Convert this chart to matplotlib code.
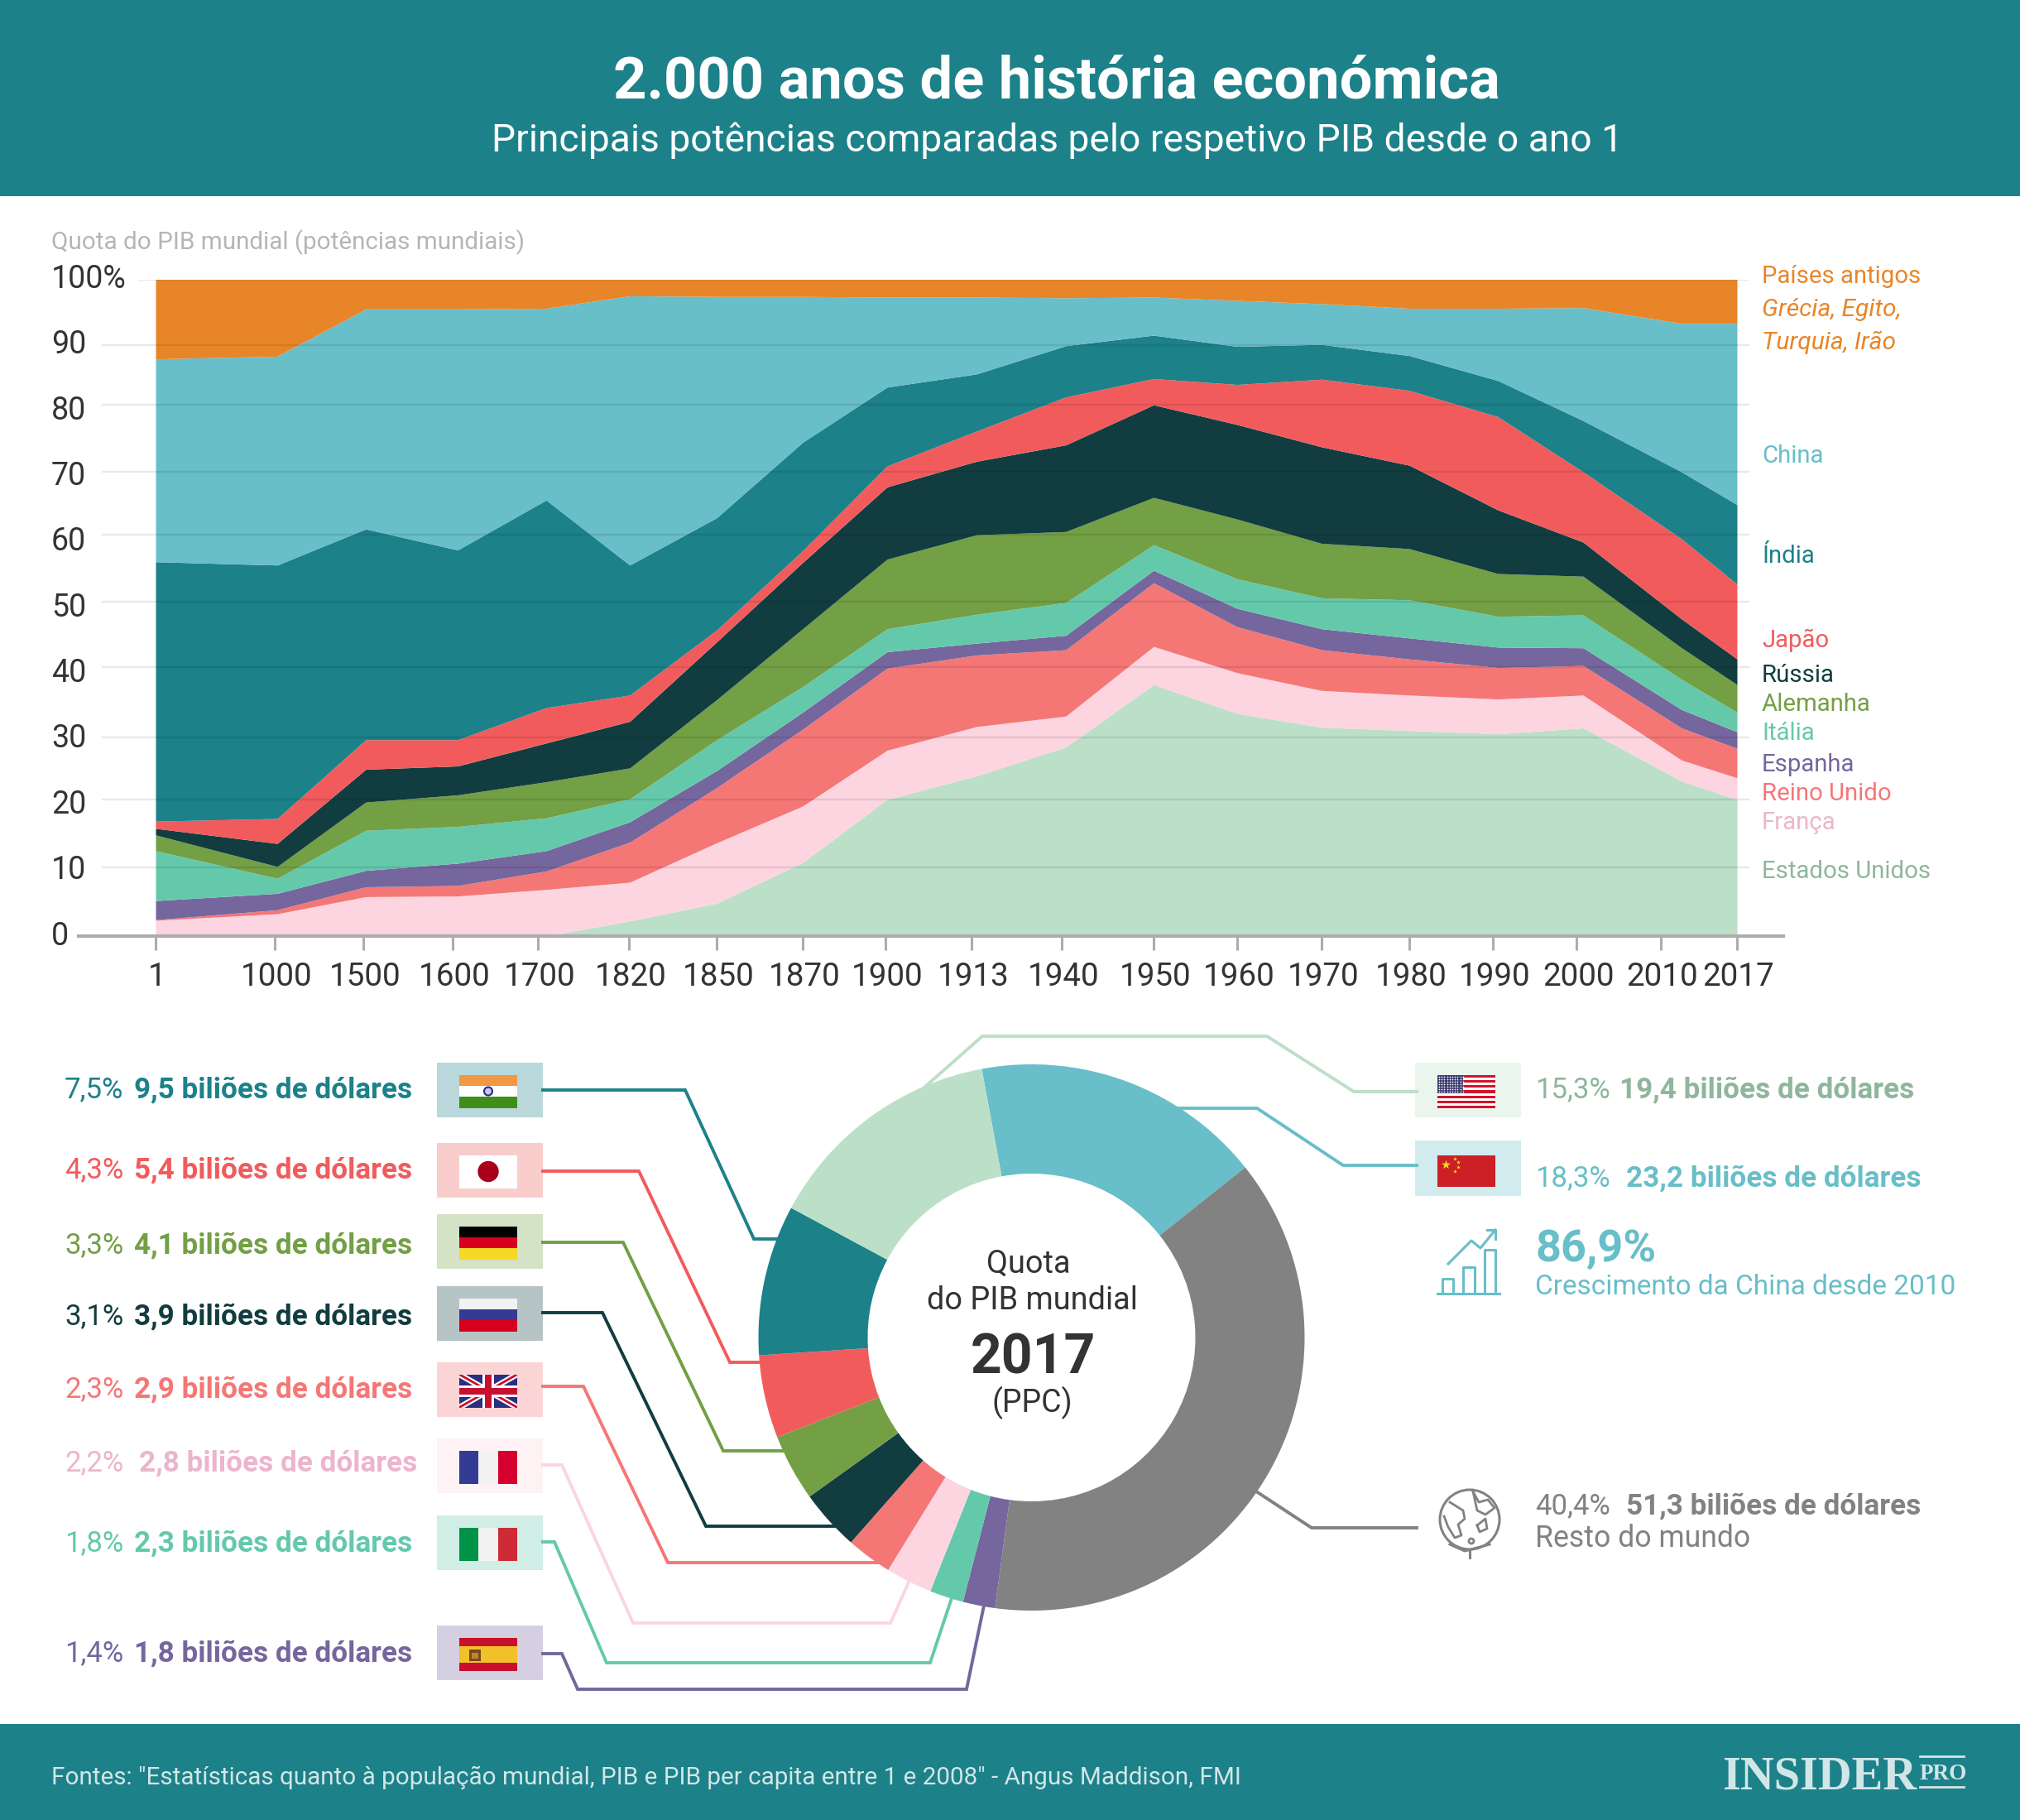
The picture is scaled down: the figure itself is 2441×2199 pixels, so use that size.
import numpy as np
import matplotlib
matplotlib.use("Agg")
from matplotlib import pyplot as plt
from matplotlib.patches import Rectangle, Circle
from matplotlib.transforms import ScaledTranslation

plt.rcParams['font.family'] = ['Roboto', 'DejaVu Sans']

W, H = 2441, 2199

# colours
TEAL = "#1c8189"
c_ancient = "#e88528"
c_china = "#68bec9"
c_india = "#1c8189"
c_japan = "#f15b5c"
c_russia = "#113d40"
c_germany = "#739f45"
c_italy = "#64c9ab"
c_spain = "#75669e"
c_uk = "#f47776"
c_france = "#fcd5e1"
c_us = "#bcdfc8"
c_rest = "#828282"

# area chart: categories and the top edge of every stacked band (%)
years = ["1", "1000", "1500", "1600", "1700", "1820", "1850", "1870", "1900", "1913",
         "1940", "1950", "1960", "1970", "1980", "1990", "2000", "2010", "2017"]
tick_pos = [188, 332, 439, 547, 650, 760, 866, 970, 1070, 1174,
            1283, 1394, 1495, 1597, 1703, 1804, 1905, 2007, 2099]
vertex_pos = [188, 335, 442, 553, 660, 761, 866, 970, 1072, 1180,
              1288, 1394, 1495, 1597, 1703, 1810, 1913, 2032, 2099]

top_us = [0, 0, 0, 0, 0, 2.3, 5.0, 11.2, 20.8, 24.4, 28.8, 38.3, 33.9, 31.8, 31.3, 30.8, 31.7, 23.6, 20.8]
top_france = [2.4, 3.4, 6.0, 6.1, 7.1, 8.2, 14.2, 19.8, 28.3, 31.9, 33.5, 44.1, 40.1, 37.4, 36.7, 36.1, 36.7, 26.8, 24.1]
top_uk = [2.5, 4.0, 7.5, 7.7, 9.9, 14.3, 22.6, 31.5, 40.8, 42.8, 43.6, 53.8, 47.1, 43.6, 42.2, 40.9, 41.2, 31.7, 28.6]
top_spain = [5.4, 6.5, 10.0, 11.1, 13.0, 17.4, 25.2, 34.1, 43.3, 44.6, 45.8, 55.7, 49.9, 46.8, 45.4, 44.0, 43.9, 34.5, 31.1]
top_italy = [13.0, 8.8, 16.1, 16.7, 18.0, 20.9, 29.9, 38.0, 46.8, 49.0, 50.8, 59.6, 54.4, 51.5, 51.2, 48.7, 48.9, 39.1, 34.1]
top_germany = [15.4, 10.6, 20.4, 21.5, 23.5, 25.6, 36.0, 46.8, 57.4, 61.1, 61.6, 66.8, 63.5, 59.8, 59.0, 55.2, 54.8, 43.9, 38.3]
top_russia = [16.4, 14.1, 25.4, 25.9, 29.4, 32.7, 44.8, 56.9, 68.4, 72.3, 74.8, 80.9, 77.9, 74.5, 71.7, 64.9, 60.0, 48.3, 42.2]
top_japan = [17.5, 17.9, 29.9, 29.9, 34.8, 36.7, 46.6, 58.7, 71.6, 76.9, 82.1, 84.9, 84.0, 84.8, 83.1, 79.1, 70.7, 60.5, 53.6]
top_india = [57.0, 56.5, 62.0, 58.8, 66.4, 56.5, 63.7, 75.2, 83.6, 85.6, 89.9, 91.5, 89.8, 90.1, 88.4, 84.6, 78.5, 70.7, 65.7]
top_china = [87.9, 88.3, 95.5, 95.5, 95.6, 97.5, 97.4, 97.4, 97.3, 97.3, 97.2, 97.3, 96.8, 96.3, 95.6, 95.6, 95.7, 93.3, 93.3]
top_ancient = [100] * 19

band_tops = [top_us, top_france, top_uk, top_spain, top_italy, top_germany,
             top_russia, top_japan, top_india, top_china, top_ancient]
band_colors = [c_us, c_france, c_uk, c_spain, c_italy, c_germany,
               c_russia, c_japan, c_india, c_china, c_ancient]

ytick_vals = [0, 10, 20, 30, 40, 50, 60, 70, 80, 90, 100]
ytick_labels = ["0", "10", "20", "30", "40", "50", "60", "70", "80", "90", "100%"]
grid_vals = [10.5, 20.8, 30.3, 40.9, 50.9, 61.1, 70.7, 80.9, 90.0]

# band names at the right of the chart
band_names = ["Países antigos", "China", "Índia", "Japão", "Rússia", "Alemanha",
              "Itália", "Espanha", "Reino Unido", "França", "Estados Unidos"]
band_name_y = [331, 548, 669, 771, 813, 848, 883, 921, 956, 991, 1050]
band_name_colors = [c_ancient, c_china, c_india, c_japan, c_russia, c_germany,
                    c_italy, c_spain, c_uk, "#ecb5cb", "#8fb69c"]

# donut: slice shares, clockwise from China
donut_names = ["China", "Resto", "Espanha", "Itália", "França", "Reino Unido",
               "Rússia", "Alemanha", "Japão", "Índia", "EUA"]
donut_shares = [17.2, 37.8, 1.9, 2.0, 2.75, 2.7, 3.6, 3.95, 4.9, 8.9, 14.2]
donut_colors = [c_china, c_rest, c_spain, c_italy, c_france, c_uk,
                c_russia, c_germany, c_japan, c_india, c_us]

# left list beside the donut
left_pct = ["7,5%", "4,3%", "3,3%", "3,1%", "2,3%", "2,2%", "1,8%", "1,4%"]
left_gdp = ["9,5", "5,4", "4,1", "3,9", "2,9", "2,8", "2,3", "1,8"]
left_colors = [c_india, c_japan, c_germany, c_russia, c_uk, "#ecb5cb", c_italy, c_spain]
left_line_colors = [c_india, c_japan, c_germany, c_russia, c_uk, c_france, c_italy, c_spain]
left_text_y = [1314, 1411, 1502, 1588, 1676, 1765, 1862, 1995]
left_box_y = [1284, 1381, 1467, 1554, 1646, 1738, 1831, 1964]
left_flags = ["india", "japan", "germany", "russia", "uk", "france", "italy", "spain"]
left_lines = [
    [(656, 1317), (828, 1317), (911, 1497), (965, 1497)],
    [(656, 1415), (772, 1415), (882, 1646), (925, 1646)],
    [(656, 1501), (753, 1501), (874, 1753), (950, 1753)],
    [(656, 1586), (728, 1586), (853, 1844), (1020, 1844)],
    [(656, 1675), (705, 1675), (807, 1888), (1070, 1888)],
    [(656, 1770), (679, 1770), (765, 1961), (1076, 1961), (1101, 1905)],
    [(656, 1863), (670, 1863), (733, 2009), (1124, 2009), (1152, 1925)],
    [(656, 1998), (679, 1998), (698, 2041), (1168, 2041), (1190, 1935)],
]
right_lines = [
    ([(1712, 1319), (1636, 1319), (1531, 1252), (1187, 1252), (1110, 1320)], c_us),
    ([(1712, 1408), (1623, 1408), (1519, 1339), (1420, 1339)], c_china),
    ([(1712, 1846), (1585, 1846), (1515, 1800)], c_rest),
]

fig = plt.figure(figsize=(W / 100, H / 100), dpi=100, facecolor="white")

# full page layer in pixel coordinates: panels, list, flags, connectors
page = fig.add_axes([0, 0, 1, 1], zorder=1)
page.set_xlim(0, W)
page.set_ylim(H, 0)
page.axis("off")


def txt(x, y, s, **kw):
    # va=center sits a little high for Roboto, hence the +3
    return page.text(x, y + 3, s, va="center", zorder=5, **kw)


def rect(x, y, w, h, color, z=3):
    r = Rectangle((x, y), w, h, facecolor=color, edgecolor="none", zorder=z)
    page.add_patch(r)
    return r


def stripes_h(x, y, w, h, colors):
    for i, c in enumerate(colors):
        rect(x, y + i * h / len(colors), w, h / len(colors), c)


def stripes_v(x, y, w, h, colors):
    for i, c in enumerate(colors):
        rect(x + i * w / len(colors), y, w / len(colors), h, c)


def flag(name, x, y, w=70, h=40):
    if name == "india":
        stripes_h(x, y, w, h, ["#f29843", "white", "#3f8e1a"])
        page.add_patch(Circle((x + w / 2, y + h / 2), 5, facecolor="#c9c9e8", edgecolor="#2a2a8c", lw=1.5, zorder=4))
    elif name == "japan":
        rect(x, y, w, h, "white")
        page.add_patch(Circle((x + w / 2, y + h / 2), 12, color="#a9001c", zorder=4))
    elif name == "germany":
        stripes_h(x, y, w, h, ["black", "#d8001f", "#f7d827"])
    elif name == "russia":
        stripes_h(x, y, w, h, ["#f2f2f2", "#353a96", "#d6001e"])
    elif name == "france":
        stripes_v(x, y, w, h, ["#333b95", "#f2f2f2", "#d6002f"])
    elif name == "italy":
        stripes_v(x, y, w, h, ["#009246", "#f2f2f2", "#ce2b37"])
    elif name == "spain":
        rect(x, y, w, h, "#c8102e")
        rect(x, y + h / 4, w, h / 2, "#f2c028")
        rect(x + 12, y + 14, 14, 14, "#7a4a1e", z=4)
        rect(x + 15, y + 18, 8, 7, "#b8892a", z=4)
    elif name == "uk":
        clip = rect(x, y, w, h, "#2a2f7f")
        for lw, col in [(5, "white"), (2, "#c8102e")]:
            for yy in [(y, y + h), (y + h, y)]:
                l, = page.plot([x, x + w], yy, color=col, lw=lw, solid_capstyle="butt", zorder=4)
                l.set_clip_path(clip)
        rect(x + w / 2 - 7, y, 14, h, "white", z=4)
        rect(x, y + h / 2 - 7, w, 14, "white", z=4)
        rect(x + w / 2 - 4, y, 8, h, "#c8102e", z=4)
        rect(x, y + h / 2 - 4, w, 8, "#c8102e", z=4)
    elif name == "usa":
        stripes_h(x, y, w, h, ["#d0142a", "white"] * 6 + ["#d0142a"])
        rect(x, y, 31, 22, "#3c3b6e", z=4)
        sx, sy = np.meshgrid(np.arange(x + 2, x + 31, 3.2), np.arange(y + 2, y + 22, 3))
        page.scatter(sx.ravel(), sy.ravel(), s=1.5, color="white", linewidths=0, zorder=5)
    elif name == "china":
        rect(x, y, w, h, "#cc1f26")
        page.scatter([x + 10], [y + 11], s=70, marker="*", color="#f7d827", linewidths=0, zorder=5)
        page.scatter([x + 21, x + 25, x + 25, x + 21], [y + 4, y + 8, y + 14, y + 19], s=14, marker="*",
                     color="#f7d827", linewidths=0, zorder=5)


# header and footer
rect(0, 0, W, 237, TEAL, z=1)
rect(0, 2083, W, H - 2083, TEAL, z=1)
txt(1277, 96, "2.000 anos de história económica", color="white", fontsize=50.8, fontweight="bold", ha="center")
txt(1277, 167, "Principais potências comparadas pelo respetivo PIB desde o ano 1", color="white",
    fontsize=33.2, ha="center")
txt(62, 2145, "Fontes: \"Estatísticas quanto à população mundial, PIB e PIB per capita entre 1 e 2008\" - Angus Maddison, FMI",
    color="#d2e6e7", fontsize=21.3)

# logo
txt(2081, 2144, "INSIDER", family="Liberation Serif", fontweight="bold", color="#d2e6e7", fontsize=40.6)
txt(2320, 2140, "PRO", family="Liberation Serif", fontweight="bold", color="#d2e6e7", fontsize=19.5)
page.plot([2320, 2373], [2122, 2122], color="#d2e6e7", lw=2, zorder=5)
page.plot([2320, 2373], [2159, 2159], color="#d2e6e7", lw=2, zorder=5)

txt(62, 290, "Quota do PIB mundial (potências mundiais)", color="#b5b5b5", fontsize=21.3)

# names of the bands
for name, y, col in zip(band_names, band_name_y, band_name_colors):
    txt(2129, y, name, color=col, fontsize=21.2)
txt(2129, 371, "Grécia, Egito,", color=c_ancient, fontsize=21.6, style="italic")
txt(2129, 411, "Turquia, Irão", color=c_ancient, fontsize=21.6, style="italic")

# list left of the donut
for i in range(len(left_pct)):
    col = left_colors[i]
    y = left_text_y[i]
    txt(78, y, left_pct[i], color=col, fontsize=25)
    bx = 168 if left_flags[i] == "france" else 162
    txt(bx, y, left_gdp[i] + " biliões de dólares", color=col, fontsize=25.3, fontweight="bold")
    rect(528, left_box_y[i], 128, 66, left_line_colors[i], z=2).set_alpha(0.3)
    flag(left_flags[i], 555, left_box_y[i] + 14.5)
    px, py = zip(*left_lines[i])
    page.plot(px, py, color=left_line_colors[i], lw=2.8, solid_joinstyle="miter", zorder=1.5)

# list right of the donut
for pts, col in right_lines:
    px, py = zip(*pts)
    page.plot(px, py, color=col, lw=2.8, solid_joinstyle="miter", zorder=1.5)
rect(1710, 1284, 128, 66, c_us, z=2).set_alpha(0.3)
rect(1710, 1378, 128, 67, c_china, z=2).set_alpha(0.3)
flag("usa", 1737, 1299)
flag("china", 1737, 1396, h=38)

txt(1855, 1314, "15,3%", color="#8fb69c", fontsize=25)
txt(1957, 1314, "19,4 biliões de dólares", color="#8fb69c", fontsize=25.3, fontweight="bold")
txt(1855, 1421, "18,3%", color=c_china, fontsize=25)
txt(1965, 1421, "23,2 biliões de dólares", color=c_china, fontsize=25.3, fontweight="bold")
txt(1855, 1506, "86,9%", color=c_china, fontsize=39, fontweight="bold")
txt(1855, 1552, "Crescimento da China desde 2010", color=c_china, fontsize=24)
txt(1855, 1817, "40,4%", color=c_rest, fontsize=25)
txt(1965, 1817, "51,3 biliões de dólares", color=c_rest, fontsize=25.3, fontweight="bold")
txt(1855, 1856, "Resto do mundo", color=c_rest, fontsize=25.7)

# growth icon
page.plot([1737, 1812], [1563, 1563], color=c_china, lw=2.2)
for bx0, bx1, by in [(1743, 1756, 1545), (1768, 1782, 1531), (1794, 1807, 1510)]:
    page.plot([bx0, bx0, bx1, bx1], [1563, by, by, 1563], color=c_china, lw=2.2)
page.plot([1750, 1778, 1789, 1807], [1527, 1499, 1508, 1486], color=c_china, lw=2.2)
page.plot([1797, 1807, 1807], [1486, 1486, 1497], color=c_china, lw=2.2)

# globe icon
gc = (1776, 1836)
page.add_patch(Circle(gc, 36, facecolor="none", edgecolor=c_rest, lw=2.2))
page.plot([1752, 1760, 1768, 1770, 1762, 1766, 1758, 1750, 1745], [1815, 1820, 1825, 1835, 1842, 1855, 1858, 1845, 1832],
          color=c_rest, lw=2)
page.plot([1780, 1787, 1798, 1806, 1795, 1785, 1780], [1802, 1815, 1812, 1822, 1830, 1825, 1802], color=c_rest, lw=2)
page.plot([1785, 1795, 1797, 1788, 1785], [1843, 1835, 1847, 1851, 1843], color=c_rest, lw=2)
page.add_patch(Circle((1778, 1862), 3, facecolor="none", edgecolor=c_rest, lw=2))
page.plot([1752, 1770, 1800], [1866, 1874, 1866], color=c_rest, lw=2.2)
page.plot([1776, 1776], [1874, 1882], color=c_rest, lw=2.2)

# donut centre
txt(1243, 1524, "Quota", color="#333333", fontsize=27.3, ha="center")
txt(1247, 1568, "do PIB mundial", color="#333333", fontsize=27.3, ha="center")
txt(1248, 1638, "2017", color="#333333", fontsize=47.5, fontweight="bold", ha="center")
txt(1247, 1692, "(PPC)", color="#333333", fontsize=27, ha="center")

# stacked area chart, x axis runs in the page's own scale
ax = fig.add_axes([0, 1 - 1131 / H, 1, 793.4 / H], zorder=2)
ax.patch.set_visible(False)
ax.set_xlim(0, W)
ax.set_ylim(0, 100)
lower = [0] * len(vertex_pos)
for top, col in zip(band_tops, band_colors):
    ax.fill_between(vertex_pos, lower, top, color=col, linewidth=0, zorder=2)
    lower = top
ax.hlines(grid_vals, 123, 2114, color="black", alpha=0.09, lw=1.7, zorder=3)
ax.hlines([100], 167, 2114, color="black", alpha=0.09, lw=1.7, zorder=3)
for v, lab in zip(ytick_vals, ytick_labels):
    ax.text(62, v, lab, color="#333333", fontsize=27, va="center", clip_on=False)
for s in ["top", "left", "right"]:
    ax.spines[s].set_visible(False)
ax.spines["bottom"].set_bounds(95, 2155)
ax.spines["bottom"].set_color("#adadad")
ax.spines["bottom"].set_linewidth(3)
ax.set_yticks([])
ax.set_xticks(tick_pos, years)
ax.tick_params(axis="x", length=12, width=2.2, color="#adadad", labelcolor="#333333", labelsize=27.8, pad=10)
# tick labels sit 2 px right of their ticks
for lab in ax.get_xticklabels():
    lab.set_transform(lab.get_transform() + ScaledTranslation(0.02, 0, fig.dpi_scale_trans))

# donut
don = fig.add_axes([(1246.5 - 400) / W, 1 - (1616 + 400) / H, 800 / W, 800 / H], zorder=3)
don.pie(donut_shares, colors=donut_colors, startangle=100.5, counterclock=False, radius=1,
        wedgeprops={"width": 0.4, "linewidth": 0})
don.set_xlim(-400 / 330, 400 / 330)
don.set_ylim(-400 / 330, 400 / 330)
don.patch.set_visible(False)

fig.savefig("out.png", dpi=100)
